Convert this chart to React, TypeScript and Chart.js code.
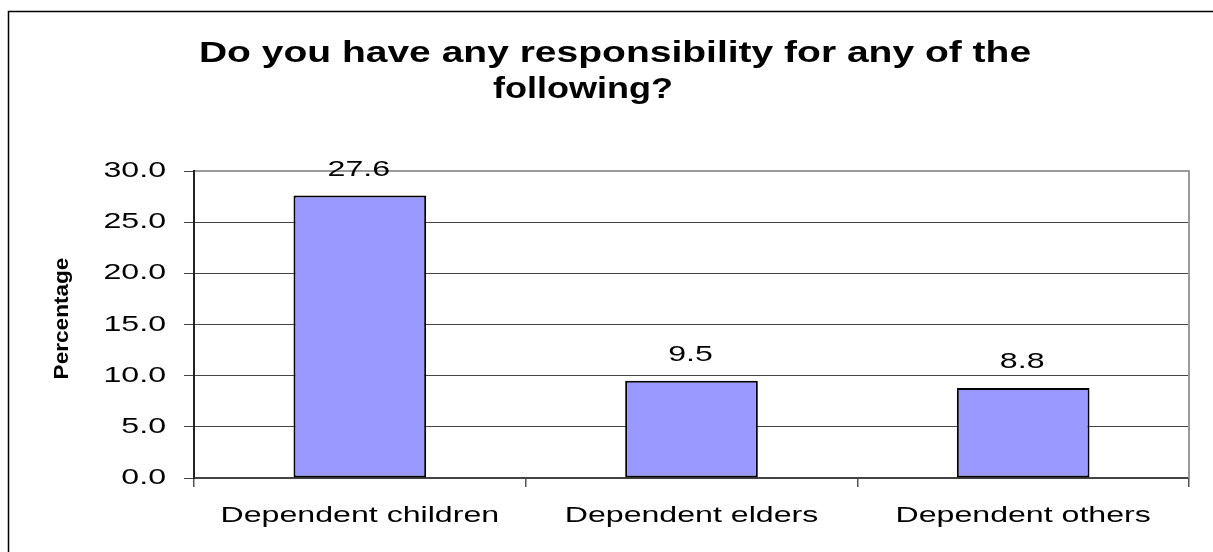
import React, { useEffect, useRef } from "react";
import { Chart, registerables } from "chart.js";

Chart.register(...registerables);

// Survey answers (percentage of respondents)
const categories = ["Dependent children", "Dependent elders", "Dependent others"];
const percentages = [27.6, 9.5, 8.8];
const yTickLabels = ["0.0", "5.0", "10.0", "15.0", "20.0", "25.0", "30.0"];
const titleLines = ["Do you have any responsibility for any of the", "following?"];
const yAxisTitle = "Percentage";

const FONT_FAMILY = '"Liberation Sans", Arial, sans-serif';
const AXIS_FONT = `22px ${FONT_FAMILY}`;
const AXIS_STRETCH = 1.46;

// Draws a line of text with a horizontal stretch around its anchor point.
function drawStretched(
  ctx: CanvasRenderingContext2D,
  text: string,
  x: number,
  y: number,
  font: string,
  sx: number,
  align: CanvasTextAlign,
  baseline: CanvasTextBaseline,
  rotation = 0
) {
  ctx.save();
  ctx.translate(x, y);
  if (rotation) ctx.rotate(rotation);
  ctx.scale(sx, 1);
  ctx.font = font;
  ctx.fillStyle = "#000";
  ctx.textAlign = align;
  ctx.textBaseline = baseline;
  ctx.fillText(text, 0, 0);
  ctx.restore();
}

const framePlugin = {
  id: "plotFrame",
  beforeDatasetsDraw(chart: any) {
    const { ctx, chartArea } = chart;
    const { left, top, right, bottom } = chartArea;
    ctx.save();
    ctx.strokeStyle = "#9a9a9a";
    ctx.lineWidth = 2;
    ctx.beginPath();
    ctx.moveTo(left + 1, top);
    ctx.lineTo(right, top);
    ctx.lineTo(right, bottom);
    ctx.stroke();
    ctx.restore();
  },
};

const textPlugin = {
  id: "chartText",
  afterDraw(chart: any) {
    const { ctx } = chart;
    const yScale = chart.scales.y;
    const xScale = chart.scales.x;

    // outer chart border
    ctx.save();
    ctx.strokeStyle = "#000";
    ctx.lineWidth = 1.5;
    ctx.beginPath();
    ctx.moveTo(chart.width + 2, 11.5);
    ctx.lineTo(8.5, 11.5);
    ctx.lineTo(8.5, chart.height + 2);
    ctx.stroke();
    ctx.restore();

    // title
    const titleFont = `bold 30px ${FONT_FAMILY}`;
    drawStretched(ctx, titleLines[0], 615, 62, titleFont, 1.3, "center", "alphabetic");
    drawStretched(ctx, titleLines[1], 583, 98, titleFont, 1.2, "center", "alphabetic");

    // y tick labels
    yTickLabels.forEach((label) => {
      const y = yScale.getPixelForValue(parseFloat(label));
      drawStretched(ctx, label, yScale.left - 18, y, AXIS_FONT, AXIS_STRETCH, "right", "middle");
    });

    // category labels
    categories.forEach((label, i) => {
      const x = xScale.getPixelForValue(i);
      drawStretched(ctx, label, x, xScale.bottom + 35, AXIS_FONT, AXIS_STRETCH, "center", "alphabetic");
    });

    // y axis title
    drawStretched(
      ctx,
      yAxisTitle,
      62,
      (yScale.top + yScale.bottom) / 2 - 6,
      `bold 20px ${FONT_FAMILY}`,
      1.13,
      "center",
      "middle",
      -Math.PI / 2
    );

    // value labels above bars
    const meta = chart.getDatasetMeta(0);
    meta.data.forEach((bar: any, i: number) => {
      drawStretched(ctx, percentages[i].toFixed(1), bar.x - 1, bar.y - 20, AXIS_FONT, AXIS_STRETCH, "center", "alphabetic");
    });
  },
};

export default function App() {
  const canvasRef = useRef<HTMLCanvasElement | null>(null);

  useEffect(() => {
    if (!canvasRef.current) return;
    const chart = new Chart(canvasRef.current, {
      type: "bar",
      data: {
        labels: categories,
        datasets: [
          {
            data: percentages,
            backgroundColor: "#9999ff",
            borderColor: "#000",
            borderWidth: 2,
            borderSkipped: false,
            barPercentage: 0.4,
            categoryPercentage: 1,
          },
        ],
      },
      options: {
        animation: false,
        responsive: true,
        maintainAspectRatio: false,
        layout: { padding: { left: 184, top: 171, right: 24, bottom: 65 } },
        plugins: {
          legend: { display: false },
          title: { display: false },
          tooltip: { enabled: false },
        },
        scales: {
          x: {
            offset: true,
            ticks: { display: false },
            grid: {
              offset: true,
              drawOnChartArea: false,
              drawTicks: true,
              tickLength: 9,
              color: "#555",
              lineWidth: 1.5,
            },
            border: { display: true, color: "#444", width: 2 },
          },
          y: {
            min: 0,
            max: 30,
            afterBuildTicks: (scale: any) => {
              scale.ticks = yTickLabels.map((l) => ({ value: parseFloat(l) }));
            },
            ticks: { display: false },
            grid: {
              drawTicks: true,
              tickLength: 10,
              color: (c: any) => (c.tick && c.tick.value === 30 ? "rgba(0,0,0,0)" : "#444"),
              tickColor: "#444",
              lineWidth: 1,
            },
            border: { display: true, color: "#222", width: 2 },
          },
        },
      },
      plugins: [framePlugin, textPlugin],
    });
    return () => chart.destroy();
  }, []);

  return (
    <div style={{ position: "absolute", left: 0, top: 0, width: 1213, height: 552, background: "#fff" }}>
      <canvas ref={canvasRef} />
    </div>
  );
}
